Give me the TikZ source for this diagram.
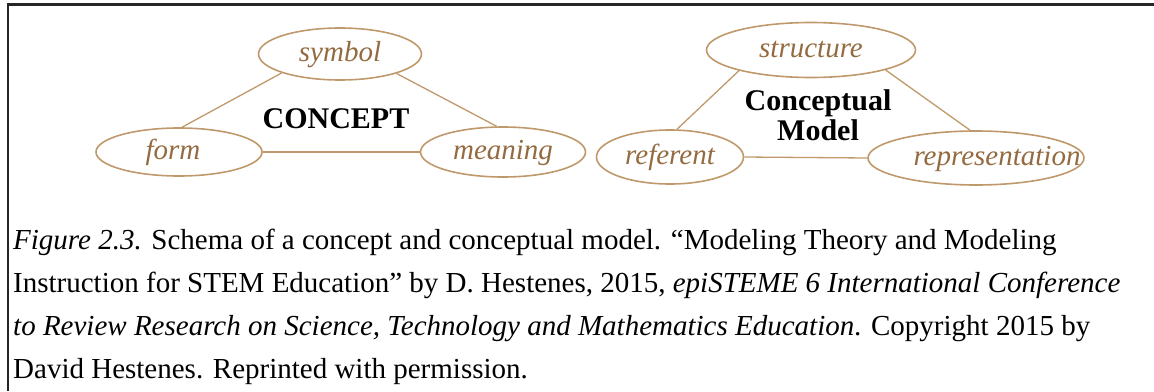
\documentclass[tikz,border=0pt]{standalone}
\usepackage{fontspec}
\setmainfont{Liberation Serif}
\usetikzlibrary{shapes.geometric}
\definecolor{Tan}{rgb}{0.75, 0.6, 0.42}
\definecolor{Umber}{rgb}{0.58, 0.42, 0.25}

\begin{document}
\begin{tikzpicture}[x=1pt,y=1pt,yscale=-1,xscale=1,
		oval/.style={draw=Tan, line width=1.6pt, ellipse, inner sep=0pt},
		ovaltext/.style={text=Umber, font=\fontsize{29}{29}\selectfont\itshape, inner sep=0.75pt, text height=20pt, text depth=6pt},
		link/.style={draw=Tan, line width=1.3pt},
		hub/.style={font=\fontsize{30}{30}\selectfont\bfseries, inner sep=0.75pt, align=center},
		capline/.style={anchor=base west, inner sep=0pt, font=\fontsize{29}{41}\selectfont}]
		\useasboundingbox (0,0) rectangle (1154,391);

		% Frame, only its top and left edges are in view
		\draw[line width=2.2pt, black!85] (1154,4.5) -- (8,4.5) -- (8,391);

		% The three ovals of the concept
		\node[oval, minimum width=163, minimum height=52] (symbol) at (340,54) {};
		\node[oval, minimum width=166, minimum height=48] (form) at (179,152) {};
		\node[oval, minimum width=165, minimum height=50] (meaning) at (503,152) {};

		% Words inside the concept ovals
		\node[ovaltext] (symboltext) at (symbol) {symbol};
		\node[ovaltext] (formtext) at ([xshift=-6]form.center) {form};
		\node[ovaltext] (meaningtext) at (meaning) {meaning};

		% The word "CONCEPT" in the middle
		\node[hub] (concept) at (336,119) {CONCEPT};

		% Sides of the concept triangle
		\draw[link] (symbol.198) -- (form.83);
		\draw[link] (symbol.341) -- (meaning.104);
		\draw[link] (form.east) -- (meaning.west);

		% The three ovals of the conceptual model
		\node[oval, minimum width=209, minimum height=55] (structure) at (811,50) {};
		\node[oval, minimum width=147, minimum height=54] (referent) at (670,157) {};
		\node[oval, minimum width=216, minimum height=54] (representation) at (976,158) {};

		% Words inside the model ovals
		\node[ovaltext] (structuretext) at (structure) {structure};
		\node[ovaltext] (referenttext) at (referent) {referent};
		\node[ovaltext] (representationtext) at ([xshift=21]representation.center) {representation};

		% The words "Conceptual Model" in the middle
		\node[hub] (model) at (818,115) {Conceptual\\Model};

		% Sides of the model triangle
		\draw[link] (structure.196) -- (referent.76);
		\draw[link] (structure.345) -- (representation.102);
		\draw[link] (referent.east) -- (representation.west);

		% Caption, line by line
		\node[capline] (captionone) at (13,249) {\textit{Figure 2.3.} Schema of a concept and conceptual model. “Modeling Theory and Modeling};
		\node[capline] (captiontwo) at (13,292) {Instruction for STEM Education” by D. Hestenes, 2015, \textit{epiSTEME 6 International Conference}};
		\node[capline] (captionthree) at (13,335) {\textit{to Review Research on Science, Technology and Mathematics Education}. Copyright 2015 by};
		\node[capline] (captionfour) at (13,378) {David Hestenes. Reprinted with permission.};
	\end{tikzpicture}
\end{document}
